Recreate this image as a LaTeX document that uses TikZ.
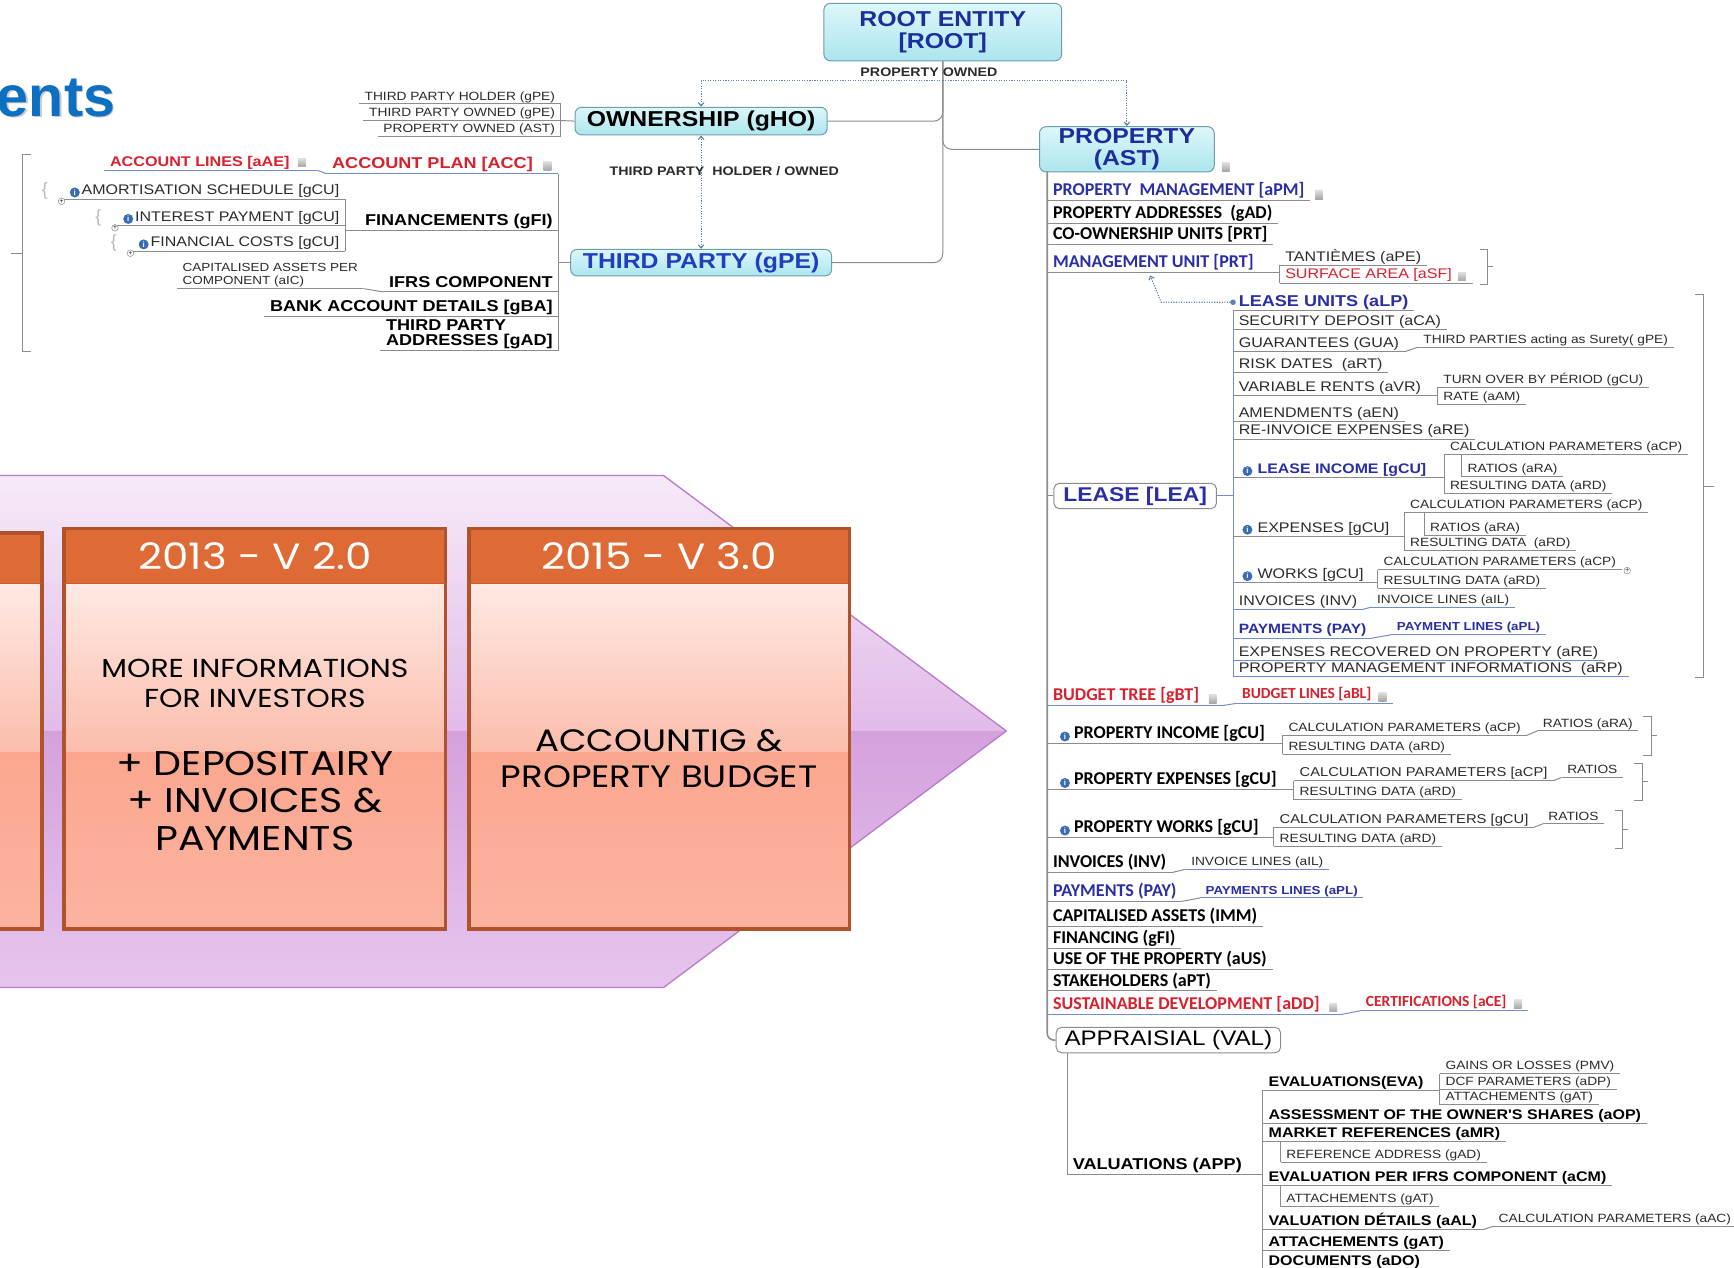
\documentclass[tikz,border=0pt]{standalone}
\usepackage{fontspec}
\setmainfont{Liberation Sans}
\newfontfamily\mmf[FakeStretch=1.15]{Liberation Sans}
\newfontfamily\clf{Carlito}
\newfontfamily\tlf[FakeStretch=1.15]{Poppins}
\usetikzlibrary{arrows.meta}
\newcommand\fsz[1]{\fontsize{#1}{#1}\selectfont}
\definecolor{lg}{HTML}{8C8C8C}
\definecolor{lb}{HTML}{6F8FC6}
\definecolor{tg}{HTML}{2B2B2B}
\definecolor{ib}{HTML}{2B2FA6}
\definecolor{rd}{HTML}{D8202E}
\definecolor{rb}{HTML}{1C2D9C}
\definecolor{tpb}{HTML}{1F3FBF}
\definecolor{cyt}{HTML}{DDF7FA}
\definecolor{cyb}{HTML}{ACE5EE}
\definecolor{cyd}{HTML}{6E9EA8}
\definecolor{dotc}{HTML}{5B82AA}
\definecolor{infoc}{HTML}{3A6CB4}
\definecolor{ttl}{HTML}{0B6FC2}
\definecolor{pu1}{HTML}{F6EAF8}
\definecolor{pu2}{HTML}{E2BBE9}
\definecolor{pu3}{HTML}{D4A1DC}
\definecolor{pu4}{HTML}{E6C5ED}
\definecolor{pub}{HTML}{B77BCB}
\definecolor{orh}{HTML}{DE6B36}
\definecolor{orb}{HTML}{B0532A}
\definecolor{pk1}{HTML}{FFE9E3}
\definecolor{pk2}{HTML}{FBBDAB}
\definecolor{pk3}{HTML}{FBA78F}
\definecolor{pk4}{HTML}{FBB3A0}
\tikzset{
 lnc/.style={draw=lg,line width=0.9pt},
 blc/.style={draw=lb,line width=0.9pt},
 itm/.style={anchor=south west,inner xsep=5pt,inner ysep=1pt,
   append after command={(\tikzlastnode.south west) edge[lnc] (\tikzlastnode.south east)}},
 itmb/.style={anchor=south west,inner xsep=5pt,inner ysep=1pt,
   append after command={(\tikzlastnode.south west) edge[blc] (\tikzlastnode.south east)}},
 itr/.style={itm,anchor=south east},
 itrb/.style={itmb,anchor=south east},
 fa/.style={font=\mmf\fsz{12.6},text=tg,text height=9pt,text depth=2.6pt},
 fs/.style={font=\mmf\fsz{10.8},text=tg,text height=8pt,text depth=2.3pt},
 fsw/.style={font=\mmf\fsz{11.6},text=tg,text height=8.5pt,text depth=2.4pt},
 fab/.style={font=\mmf\bfseries\fsz{12.6},text=black,text height=9pt,text depth=2.6pt},
 fbb/.style={font=\mmf\bfseries\fsz{14.2},text=black,text height=10pt,text depth=3pt},
 fc/.style={font=\clf\bfseries\fsz{16.3},text=black,text height=10.5pt,text depth=3.2pt},
 fcu/.style={fc,text=ib},
 fcr/.style={fc,text=rd},
 fcrs/.style={font=\clf\bfseries\fsz{14},text=rd,text height=9.5pt,text depth=3pt},
 cbox/.style={draw=cyd,line width=0.9pt,rounded corners=6pt,top color=cyt,bottom color=cyb,
   inner sep=0pt,align=center,font=\mmf\bfseries\fsz{19.5}},
 wbox/.style={draw=lg,line width=0.9pt,rounded corners=5pt,fill=white,inner sep=0pt},
 infoi/.style={circle,fill=infoc,minimum size=9pt,inner sep=0pt,text=white,font=\bfseries\fsz{7}},
 plusi/.style={circle,draw=gray,fill=white,minimum size=6pt,inner sep=0pt,font=\fsz{6}},
 notei/.style={rectangle,minimum width=7pt,minimum height=8pt,inner sep=0pt,top color=gray!25,bottom color=gray!70},
 bracei/.style={text=gray!55,font=\fsz{16},inner sep=0pt},
 dotl/.style={draw=dotc,line width=1pt,dash pattern=on 1pt off 1.3pt},
 arr/.style={-{Straight Barb[length=3pt,width=5pt]}},
 arr2/.style={{Straight Barb[length=3pt,width=5pt]}-{Straight Barb[length=3pt,width=5pt]}},
 lblt/.style={font=\mmf\bfseries\fsz{11.2},text=tg,inner sep=1pt},
 hdrt/.style={font=\tlf\fsz{33},text=white,inner sep=0pt},
 bodya/.style={font=\tlf\fontsize{23.5}{27}\selectfont,text=black,align=center,inner sep=0pt},
 bodyb/.style={font=\tlf\fontsize{31}{34}\selectfont,text=black,align=center,inner sep=0pt},
 bodyc/.style={font=\tlf\fontsize{28}{33}\selectfont,text=black,align=center,inner sep=0pt},
}
\begin{document}
\begin{tikzpicture}[x=1pt,y=-1pt]
\useasboundingbox (0,0) rectangle (1568,1146);
\clip (0,0) rectangle (1568,1146);
\fill[white] (0,0) rectangle (1568,1146);
% ---------- timeline arrow ----------
\shade[top color=pu1,bottom color=pu2] (-5,430) -- (600,430) -- (910,661) -- (-5,661) -- cycle;
\shade[top color=pu3,bottom color=pu4] (-5,661) -- (910,661) -- (600,893) -- (-5,893) -- cycle;
\draw[pub,line width=1.2pt] (-5,430) -- (600,430) -- (910,661) -- (600,893) -- (-5,893);
% ---------- version boxes ----------
\foreach \xa/\xb/\yt in {-20/38/482, 58/403/478, 424/768/478}{
  \fill[orh] (\xa,\yt) rectangle (\xb,528);
  \shade[top color=pk1,bottom color=pk2] (\xa,528) rectangle (\xb,680);
  \shade[top color=pk3,bottom color=pk4] (\xa,680) rectangle (\xb,840);
  \draw[orb,line width=3pt] (\xa,\yt) rectangle (\xb,840);
  \draw[orb!60!orh,line width=1pt] (\xa,528) -- (\xb,528);
}
\node[hdrt] (h2) at (230.5,503) {2013 - V 2.0};
\node[bodya] (b2a) at (230.5,618) {MORE INFORMATIONS\\FOR INVESTORS};
\node[bodyb] (b2b) at (230.5,724) {+ DEPOSITAIRY\\+ INVOICES \&\\PAYMENTS};
\node[hdrt] (h3) at (596,503) {2015 - V 3.0};
\node[bodyc] (b3) at (596,686) {ACCOUNTIG \&\\PROPERTY BUDGET};
% ---------- title ----------
\node[anchor=base west,font=\bfseries\fsz{52},text=black!60,opacity=0.35,inner sep=0pt] (ttls) at (-1.5,106.5) {ents};
\node[anchor=base west,font=\bfseries\fsz{52},text=ttl,inner sep=0pt] (ttlt) at (-3,105) {ents};
% ---------- top entities ----------
\node[cbox,minimum width=215pt,minimum height=52pt,text=rb] (root) at (852.5,29) {ROOT ENTITY\\{[ROOT]}};
\node[cbox,minimum width=228pt,minimum height=25pt,text=black] (own) at (634,109.5) {OWNERSHIP (gHO)};
\node[cbox,minimum width=236pt,minimum height=24pt,text=tpb] (tp) at (634,237.5) {THIRD PARTY (gPE)};
\node[cbox,minimum width=158pt,minimum height=41pt,text=rb] (prop) at (1019,135) {PROPERTY\\(AST)};
\node[notei] (propn) at ([xshift=10pt,yshift=5pt]prop.south east) {};
\draw[lnc,rounded corners=8pt] (root.south) |- (own.east);
\draw[lnc,rounded corners=8pt] (root.south) |- (prop.west);
\draw[lnc,rounded corners=8pt] (root.south) |- (tp.east);
\node[lblt] (pol) at (840,65) {PROPERTY OWNED};
\coordinate (dj) at (852.5,73);
\draw[dotl,arr] (dj) -| (own.north);
\draw[dotl,arr] (dj) -| (prop.north);
\draw[dotl,arr2] (own.south) -- (own.south |- tp.north);
\node[lblt] (tph) at (655,155) {THIRD PARTY\ \ HOLDER / OWNED};
% ownership children
\node[itr,fs] (o1) at (507,94) {THIRD PARTY HOLDER (gPE)};
\node[itr,fs] (o2) at (507,109) {THIRD PARTY OWNED (gPE)};
\node[itr,fs] (o3) at (507,123) {PROPERTY OWNED (AST)};
\draw[lnc] (o1.south east) -- (o3.south east);
\draw[lnc] (o2.south east) -- (own.west);
% ---------- third party subtree ----------
\coordinate (tt) at (505,157);
\coordinate (tb) at (505,317);
\draw[lnc] (tt) -- (tb);
\draw[lnc] (tp.west) -- (tp.west -| tt);
\node[itrb,font=\mmf\bfseries\fsz{14.2},text=rd,text height=10pt,text depth=3pt] (ap) at (505,157) {ACCOUNT PLAN [ACC]\hspace*{18pt}};
\node[notei] (apn) at ([xshift=-10pt,yshift=7pt]ap.south east) {};
\node[itrb,font=\mmf\bfseries\fsz{12.7},text=rd,text height=9pt,text depth=2.6pt] (al) at (287,154) {ACCOUNT LINES [aAE]\hspace*{20pt}};
\node[notei] (aln) at ([xshift=-14pt,yshift=7pt]al.south east) {};
\draw[blc] (al.south east) -- (ap.south west);
\node[itr,fbb] (fi) at (505,208) {FINANCEMENTS (gFI)};
\node[itr,fa] (f1) at (312,180) {\hspace*{13pt}AMORTISATION SCHEDULE [gCU]};
\node[itr,fa] (f2) at (312,204) {\hspace*{13pt}INTEREST PAYMENT [gCU]};
\node[itr,fa] (f3) at (312,227) {\hspace*{13pt}FINANCIAL COSTS [gCU]};
\foreach \n in {f1,f2,f3}{
  \node[infoi] at ([xshift=12pt,yshift=6pt]\n.south west) {i};
  \node[plusi] at ([yshift=-2pt]\n.south west) {+};
  \node[bracei] at ([xshift=-15pt,yshift=7pt]\n.south west) {\{};
}
\draw[lnc] (f1.south east) -- (f3.south east);
\draw[lnc] (fi.south west) -- (fi.south west -| f1.south east);
\node[itm,font=\mmf\fontsize{10.6}{12}\selectfont,text=tg,align=left] (cap) at (160,261) {CAPITALISED ASSETS PER\\COMPONENT (aIC)};
\node[itr,fbb] (ifrs) at (505,264) {IFRS COMPONENT};
\draw[lnc] (cap.south east) -- (ifrs.south west);
\node[itr,fbb] (ba) at (505,286) {BANK ACCOUNT DETAILS [gBA]};
\node[itr,font=\mmf\bfseries\fontsize{14.2}{14}\selectfont,text=black,align=left] (tpa) at (505,317) {THIRD PARTY\\ADDRESSES [gAD]};
\draw[lnc] (28,140) -- (20,140) -- (20,318) -- (28,318);
\draw[lnc] (20,229) -- (10,229);
% ---------- property subtree ----------
\coordinate (pt) at (947,155);
\node[wbox,minimum width=203pt,minimum height=23pt,font=\mmf\fsz{19},text=black] (app) at (1056.5,940.5) {APPRAISIAL (VAL)};
\draw[lnc,line width=1.4pt,rounded corners=6pt] (pt) |- (app.west);
\node[itm,fcu] (pm) at (947,181) {PROPERTY\ \ MANAGEMENT [aPM]};
\node[notei] (pmn) at ([xshift=8pt,yshift=5pt]pm.south east) {};
\node[itm,fc] (pa) at (947,202) {PROPERTY ADDRESSES\ \ (gAD)};
\node[itm,fc] (co) at (947,221) {CO-OWNERSHIP UNITS [PRT]};
\node[itm,fcu] (mu) at (947,246) {MANAGEMENT UNIT [PRT]};
\node[itm,fa] (tan) at (1157,240) {TANTIÈMES (aPE)};
\node[itm,fa,text=rd] (sa) at (1157,256) {SURFACE AREA [aSF]\hspace*{14pt}};
\node[notei] (san) at ([xshift=-10pt,yshift=6pt]sa.south east) {};
\draw[lnc] (tan.south west) -- (sa.south west);
\draw[lnc] (mu.south east) -- (mu.south east -| tan.south west);
\draw[lnc] (1338,226) -- (1345,226) -- (1345,257) -- (1338,257);
\draw[lnc] (1345,241) -- (1350,241);
% lease
\node[wbox,minimum width=147pt,minimum height=23pt,font=\mmf\bfseries\fsz{18},text=ib] (lea) at (1026.5,448.5) {LEASE [LEA]};
\draw[lnc] (lea.west -| pt) -- (lea.west);
\coordinate (lt) at (1115,281);
\coordinate (lbm) at (1115,612);
\draw[blc] (lea.east) -- (lea.east -| lt);
\draw[blc] (lt) -- (lbm);
\node[itm,font=\mmf\bfseries\fsz{14.2},text=ib,text height=10pt,text depth=3pt] (lu) at (1115,281) {LEASE UNITS (aLP)};
\coordinate (mua) at (1040,249);
\draw[dotl,arr] (lu.west) -- ++(-65,0) -- (mua);
\fill[dotc] (lu.west) circle (2.5pt);
\node[itm,fa] (sd) at (1115,298) {SECURITY DEPOSIT (aCA)};
\node[itm,fa] (gu) at (1115,318) {GUARANTEES (GUA)};
\node[itm,fs] (gu1) at (1282,314) {THIRD PARTIES acting as Surety( gPE)};
\draw[lnc] (gu.south east) -- (gu1.south west);
\node[itm,fa] (rk) at (1115,337) {RISK DATES\ \ (aRT)};
\node[itm,fa] (vr) at (1115,358) {VARIABLE RENTS (aVR)};
\node[itm,fs] (vr1) at (1300,350) {TURN OVER BY PÉRIOD (gCU)};
\node[itm,fs] (vr2) at (1300,366) {RATE (aAM)};
\draw[lnc] (vr1.south west) -- (vr2.south west);
\draw[lnc] (vr.south east) -- (vr.south east -| vr1.south west);
\node[itm,fa] (amd) at (1115,381) {AMENDMENTS (aEN)};
\node[itm,fa] (rie) at (1115,397) {RE-INVOICE EXPENSES (aRE)};
\node[itm,font=\mmf\bfseries\fsz{12.5},text=ib,text height=9pt,text depth=2.6pt] (li) at (1115,432) {\hspace*{17pt}LEASE INCOME [gCU]};
\node[itm,fs] (li1) at (1306,411) {CALCULATION PARAMETERS (aCP)};
\node[itm,fs] (li2) at (1322,431) {RATIOS (aRA)};
\node[itm,fs] (li3) at (1306,446) {RESULTING DATA (aRD)};
\draw[lnc] (li1.south west) -- (li3.south west);
\draw[lnc] (li2.south west) -- (li2.south west |- li1.south);
\draw[lnc] (li.south east) -- (li.south east -| li1.south west);
\node[itm,fa] (ex) at (1115,485) {\hspace*{17pt}EXPENSES [gCU]};
\node[itm,fs] (ex1) at (1270,463) {CALCULATION PARAMETERS (aCP)};
\node[itm,fs] (ex2) at (1288,484) {RATIOS (aRA)};
\node[itm,fs] (ex3) at (1270,498) {RESULTING DATA\ \ (aRD)};
\draw[lnc] (ex1.south west) -- (ex3.south west);
\draw[lnc] (ex2.south west) -- (ex2.south west |- ex1.south);
\draw[lnc] (ex.south east) -- (ex.south east -| ex1.south west);
\node[itm,fa] (wk) at (1115,527) {\hspace*{17pt}WORKS [gCU]};
\node[itm,fs] (wk1) at (1246,515) {CALCULATION PARAMETERS (aCP)};
\node[plusi] (wkp) at ([xshift=5pt,yshift=-1pt]wk1.south east) {+};
\node[itm,fs] (wk2) at (1246,532) {RESULTING DATA (aRD)};
\draw[lnc] (wk1.south west) -- (wk2.south west);
\draw[lnc] (wk.south east) -- (wk.south east -| wk1.south west);
\foreach \n in {li,ex,wk}{\node[infoi] at ([xshift=13pt,yshift=6pt]\n.south west) {i};}
\node[itmb,fa] (inv) at (1115,551) {INVOICES (INV)};
\node[itmb,fs] (inv1) at (1240,549) {INVOICE LINES (aIL)};
\draw[blc] (inv.south east) -- (inv1.south west);
\node[itmb,font=\mmf\bfseries\fsz{12.2},text=ib,text height=9pt,text depth=2.6pt] (pay) at (1115,577) {PAYMENTS (PAY)};
\node[itmb,font=\mmf\bfseries\fsz{10.5},text=ib,text height=8pt,text depth=2.3pt] (pay1) at (1258,574) {PAYMENT LINES (aPL)};
\draw[blc] (pay.south east) -- (pay1.south west);
\node[itmb,fa] (er) at (1115,597) {EXPENSES RECOVERED ON PROPERTY (aRE)};
\node[itmb,fa] (pmi) at (1115,612) {PROPERTY MANAGEMENT INFORMATIONS\ \ (aRP)};
\draw[lnc] (1533,266) -- (1540,266) -- (1540,613) -- (1533,613);
\draw[lnc] (1540,440) -- (1550,440);
% budget etc
\node[itmb,fcr] (bt) at (947,638) {BUDGET TREE [gBT]\hspace*{16pt}};
\node[notei] (btn) at ([xshift=-9pt,yshift=6pt]bt.south east) {};
\node[itmb,fcrs] (bl) at (1118,636) {BUDGET LINES [aBL]\hspace*{14pt}};
\node[notei] (bln) at ([xshift=-9pt,yshift=6pt]bl.south east) {};
\draw[blc] (bt.south east) -- (bl.south west);
\node[itm,fc] (pin) at (947,672) {\hspace*{19pt}PROPERTY INCOME [gCU]};
\node[itm,fs] (pin1) at (1160,665) {CALCULATION PARAMETERS (aCP)};
\node[itm,fs] (pin1r) at (1390,661) {RATIOS (aRA)};
\node[itm,fs] (pin2) at (1160,682) {RESULTING DATA (aRD)};
\draw[lnc] (pin1.south east) -- (pin1r.south west);
\draw[lnc] (pin1.south west) -- (pin2.south west);
\draw[lnc] (pin.south east) -- (pin.south east -| pin1.south west);
\node[itm,fc] (pex) at (947,714) {\hspace*{19pt}PROPERTY EXPENSES [gCU]};
\node[itm,fsw] (pex1) at (1170,706) {CALCULATION PARAMETERS [aCP]};
\node[itm,fs] (pex1r) at (1412,703) {RATIOS};
\node[itm,fs] (pex2) at (1170,723) {RESULTING DATA (aRD)};
\draw[lnc] (pex1.south east) -- (pex1r.south west);
\draw[lnc] (pex1.south west) -- (pex2.south west);
\draw[lnc] (pex.south east) -- (pex.south east -| pex1.south west);
\node[itm,fc] (pwk) at (947,757) {\hspace*{19pt}PROPERTY WORKS [gCU]};
\node[itm,fsw] (pwk1) at (1152,748) {CALCULATION PARAMETERS [gCU]};
\node[itm,fs] (pwk1r) at (1395,745) {RATIOS};
\node[itm,fs] (pwk2) at (1152,765) {RESULTING DATA (aRD)};
\draw[lnc] (pwk1.south east) -- (pwk1r.south west);
\draw[lnc] (pwk1.south west) -- (pwk2.south west);
\draw[lnc] (pwk.south east) -- (pwk.south east -| pwk1.south west);
\foreach \n in {pin,pex,pwk}{\node[infoi] at ([xshift=16pt,yshift=6pt]\n.south west) {i};}
\foreach \xb/\ya/\yb in {1493/648/683, 1485/690/724, 1467/733/767}{
  \draw[lnc] (\xb-7,\ya) -- (\xb,\ya) -- (\xb,\yb) -- (\xb-7,\yb);
  \draw[lnc] (\xb,{(\ya+\yb)/2}) -- (\xb+5,{(\ya+\yb)/2});
}
\node[itm,fc] (inv2) at (947,789) {INVOICES (INV)};
\node[itmb,fs] (inv2a) at (1072,786) {INVOICE LINES (aIL)};
\draw[lnc] (inv2.south east) -- (inv2a.south west);
\node[itm,fcu] (pay2) at (947,815) {PAYMENTS (PAY)};
\node[itmb,font=\mmf\bfseries\fsz{10.5},text=ib,text height=8pt,text depth=2.3pt] (pay2a) at (1085,812) {PAYMENTS LINES (aPL)};
\draw[lnc] (pay2.south east) -- (pay2a.south west);
\node[itm,fc] (cap2) at (947,838) {CAPITALISED ASSETS (IMM)};
\node[itm,fc] (fin) at (947,858) {FINANCING (gFI)};
\node[itm,fc] (use) at (947,877) {USE OF THE PROPERTY (aUS)};
\node[itm,fc] (stk) at (947,896) {STAKEHOLDERS (aPT)};
\node[itmb,fcr] (sus) at (947,917) {SUSTAINABLE DEVELOPMENT [aDD]\hspace*{16pt}};
\node[notei] (susn) at ([xshift=-9pt,yshift=6pt]sus.south east) {};
\node[itmb,fcrs] (cert) at (1230,914) {CERTIFICATIONS [aCE]\hspace*{14pt}};
\node[notei] (certn) at ([xshift=-9pt,yshift=6pt]cert.south east) {};
\draw[blc] (sus.south east) -- (cert.south west);
% ---------- valuations ----------
\node[itm,fbb] (val) at (965,1062) {VALUATIONS (APP)};
\draw[lnc] (app.south -| val.south west) -- (val.south west);
\coordinate (vt) at (1142,986);
\coordinate (vb) at (1142,1150);
\draw[lnc] (vt) -- (vb);
\draw[lnc] (val.south east) -- (val.south east -| vt);
\node[itm,fab] (eva) at (1142,986) {EVALUATIONS(EVA)};
\node[itm,fs] (ev1) at (1302,971) {GAINS OR LOSSES (PMV)};
\node[itm,fs] (ev2) at (1302,985) {DCF PARAMETERS (aDP)};
\node[itm,fs] (ev3) at (1302,999) {ATTACHEMENTS (gAT)};
\draw[lnc] (ev1.south west) -- (ev3.south west);
\draw[lnc] (eva.south east) -- (eva.south east -| ev1.south west);
\node[itm,fab] (aos) at (1142,1016) {ASSESSMENT OF THE OWNER'S SHARES (aOP)};
\node[itm,fab] (mr) at (1142,1032) {MARKET REFERENCES (aMR)};
\node[itm,fs] (mr1) at (1158,1051) {REFERENCE ADDRESS (gAD)};
\draw[lnc] (mr1.south west) -- (mr1.south west |- mr.south);
\node[itm,fab] (epi) at (1142,1072) {EVALUATION PER IFRS COMPONENT (aCM)};
\node[itm,fs] (epi1) at (1158,1091) {ATTACHEMENTS (gAT)};
\draw[lnc] (epi1.south west) -- (epi1.south west |- epi.south);
\node[itm,fab] (vd) at (1142,1112) {VALUATION DÉTAILS (aAL)};
\node[itm,fs] (vd1) at (1350,1109) {CALCULATION PARAMETERS (aAC)};
\draw[lnc] (vd.south east) -- (vd1.south west);
\node[itm,fab] (att) at (1142,1131) {ATTACHEMENTS (gAT)};
\node[itm,fab] (doc) at (1142,1148) {DOCUMENTS (aDO)};
\end{tikzpicture}
\end{document}
